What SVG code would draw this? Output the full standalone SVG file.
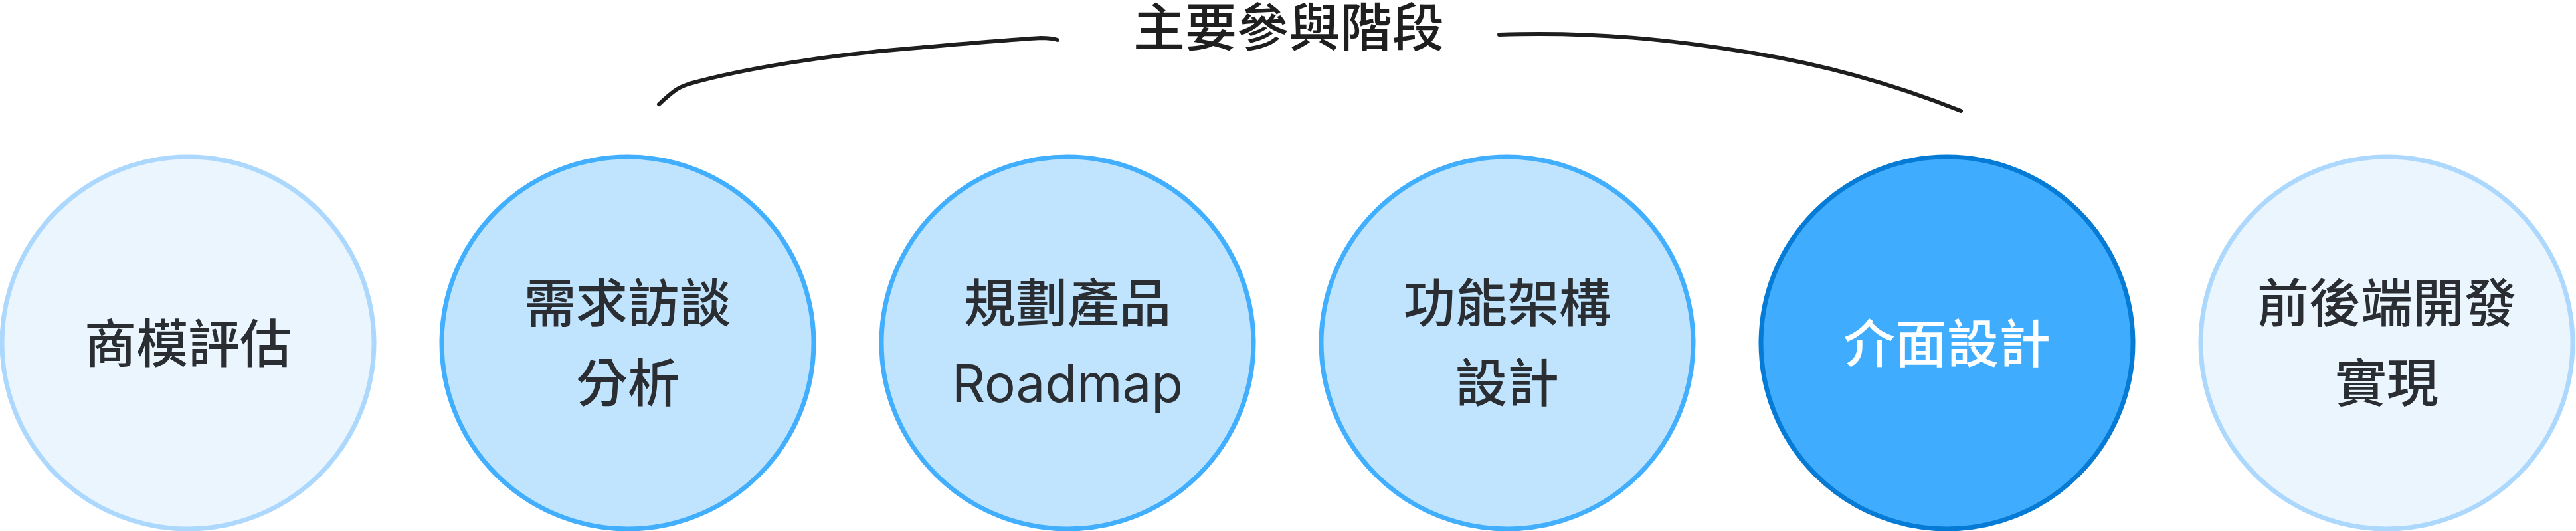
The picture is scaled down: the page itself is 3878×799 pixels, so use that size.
<svg xmlns="http://www.w3.org/2000/svg" width="3878" height="799" viewBox="0 0 3878 799">
<style>
.t{font-family:"Noto Sans CJK TC","Noto Sans CJK SC",sans-serif;font-size:78px;font-weight:500;text-anchor:middle;fill:#2a2e33}
.lat{font-family:"Inter","Noto Sans",sans-serif;font-weight:400}
.w{fill:#ffffff}
.pale{fill:#eaf5fe;stroke:#add8fe;stroke-width:7}
.mid{fill:#c0e4fd;stroke:#42aefe;stroke-width:7}
.hot{fill:#3facfe;stroke:#067bd6;stroke-width:7}
.br{fill:none;stroke:#1e1e1e;stroke-width:6;stroke-linecap:round;stroke-linejoin:round}
</style>
<rect width="3878" height="799" fill="#ffffff"/>
<g id="connectors">
<path class="br" d="M992,157 Q1008,142 1018,135 Q1026,130 1038,126 C1120,103 1250,82 1380,72 C1450,66 1530,59 1567,57 Q1582,57 1592,60"/>
<path class="br" d="M2257,52 C2400,47 2520,60 2640,80 C2760,100 2860,130 2952,167"/>
</g>
<g id="title"><text class="t" x="1940" y="70" style="fill:#1f1f1f">主要參與階段</text></g>
<g id="n1"><circle class="pale" cx="283" cy="516" r="280"/><text class="t" x="283" y="546">商模評估</text></g>
<g id="n2"><circle class="mid" cx="945" cy="516" r="280"/><text class="t" x="945" y="485">需求訪談</text><text class="t" x="945" y="605">分析</text></g>
<g id="n3"><circle class="mid" cx="1607" cy="516" r="280"/><text class="t" x="1607" y="485">規劃產品</text><text class="t lat" x="1607" y="605">Roadmap</text></g>
<g id="n4"><circle class="mid" cx="2269" cy="516" r="280"/><text class="t" x="2269" y="485">功能架構</text><text class="t" x="2269" y="605">設計</text></g>
<g id="n5"><circle class="hot" cx="2931" cy="516" r="280"/><text class="t w" x="2931" y="546">介面設計</text></g>
<g id="n6"><circle class="pale" cx="3593" cy="516" r="280"/><text class="t" x="3593" y="485">前後端開發</text><text class="t" x="3593" y="605">實現</text></g>
</svg>
